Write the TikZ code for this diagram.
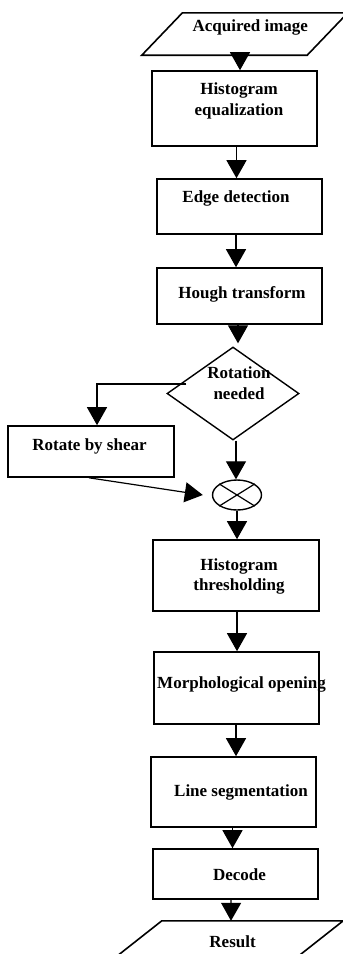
\documentclass[tikz,border=0pt]{standalone}
\usepackage{fontspec}
\setmainfont{Liberation Serif}
\usetikzlibrary{shapes.geometric,arrows.meta}
\begin{document}
\begin{tikzpicture}[x=1pt,y=-1pt,
  box/.style={draw, line width=1.6pt, inner sep=0pt, minimum width=165pt},
  lbl/.style={font=\bfseries\fontsize{17}{20.4}\selectfont, align=center, inner sep=0pt},
  arr/.style={line width=1.2pt, -{Triangle[length=18pt,width=20pt]}},
  iobox/.style={inner sep=0pt, minimum height=42pt},
  ioline/.style={line width=1.6pt, line join=miter},
]
\path[use as bounding box, fill=white] (0,0) rectangle (343,954);

% input / output parallelograms (slanted sides drawn from the node corners)
\node[iobox, minimum width=205.6pt,
      label={[lbl,xshift=5.5pt,yshift=6.5pt]center:Acquired image}] (acq) at (244.8,34) {};
\draw[ioline] (acq.south west) -- ([xshift=-40.6pt]acq.south east) -- (acq.north east)
  -- ([xshift=40.6pt]acq.north west) -- cycle;
\node[iobox, minimum width=234.8pt,
      label={[lbl,xshift=7pt]center:Result}] (res) at (225.6,942) {};
\draw[ioline] (res.south west) -- ([xshift=-53.8pt]res.south east) -- (res.north east)
  -- ([xshift=53.8pt]res.north west) -- cycle;

% processing steps
\node[box, minimum height=75pt,
      label={[lbl,xshift=4.5pt,yshift=7.5pt]center:Histogram\\equalization}] (heq) at (234.5,108.5) {};
\node[box, minimum height=55pt,
      label={[lbl,xshift=-3.5pt,yshift=8.5pt]center:Edge detection}] (edge) at (239.5,206.5) {};
\node[box, minimum height=56pt,
      label={[lbl,xshift=2.5pt,yshift=2pt]center:Hough transform}] (hough) at (239.5,296) {};
\node[draw, diamond, line width=1.4pt, inner sep=0pt, minimum width=132pt, minimum height=93pt,
      label={[lbl,xshift=6pt,yshift=10.5pt]center:Rotation\\needed}] (dia) at (233,393.5) {};
\node[box, minimum width=166pt, minimum height=51pt,
      label={[lbl,xshift=-1.5pt,yshift=5.5pt]center:Rotate by shear}] (rot) at (91,451.5) {};
\node[draw, ellipse, line width=1.4pt, inner sep=0pt, minimum width=49pt, minimum height=30pt] (mult) at (237,495) {};
\draw[line width=1.2pt] (mult.north west) -- (mult.south east) (mult.north east) -- (mult.south west);
\node[box, minimum width=166pt, minimum height=71pt,
      label={[lbl,xshift=3pt,yshift=-1pt]center:Histogram\\thresholding}] (thr) at (236,575.5) {};
\node[box, minimum height=72pt,
      label={[lbl,xshift=5pt,yshift=4pt]center:Morphological opening}] (morph) at (236.5,688) {};
\node[box, minimum height=70pt,
      label={[lbl,xshift=7.5pt,yshift=-0.5pt]center:Line segmentation}] (seg) at (233.5,792) {};
\node[box, minimum height=50pt,
      label={[lbl,xshift=4pt,yshift=-0.5pt]center:Decode}] (dec) at (235.5,874) {};

% connectors
\draw[arr] ([xshift=-4.8pt]acq.south) -- ([xshift=5.5pt]heq.north);
\draw[arr] ([xshift=2pt]heq.south) -- ([xshift=-3pt]edge.north);
\draw[arr] ([xshift=-3.5pt]edge.south) -- ([xshift=-3.5pt]edge.south |- hough.north);
\draw[arr, shorten >=3pt] ([xshift=-1.5pt]hough.south) -- ([xshift=5pt]dia.north);
\draw[arr] ([xshift=20pt,yshift=9.5pt]dia.west) -| ([xshift=6pt]rot.north);
\draw[arr] ([xshift=3pt]dia.south) -- ([xshift=-1pt]mult.north);
\draw[arr] ([xshift=-2pt]rot.south) -- ([xshift=-9pt]mult.west);
\draw[arr] (mult.south) -- ([xshift=1pt]thr.north);
\draw[arr] ([xshift=1pt]thr.south) -- ([xshift=0.5pt]morph.north);
\draw[arr] ([xshift=-0.5pt]morph.south) -- ([xshift=2.5pt]seg.north);
\draw[arr] ([xshift=-1pt]seg.south) -- ([xshift=-3pt]dec.north);
\draw[arr] ([xshift=-4.4pt]dec.south) -- ([xshift=5.4pt]res.north);
\end{tikzpicture}
\end{document}
